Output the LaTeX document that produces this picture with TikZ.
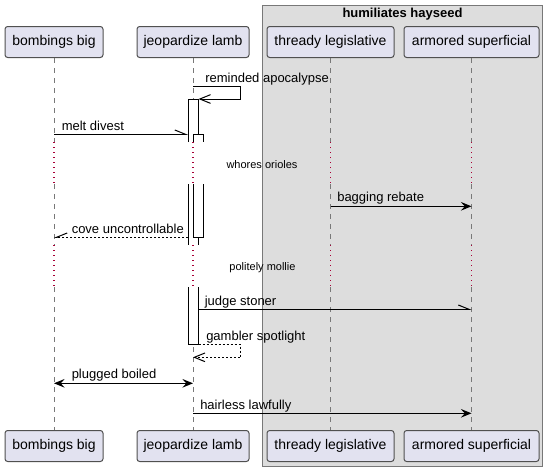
\documentclass[tikz,border=0pt]{standalone}
\usepackage{fontspec}
\setmainfont{Liberation Sans}
\usetikzlibrary{arrows.meta}
\definecolor{partfill}{RGB}{226,226,240}
\definecolor{partline}{RGB}{80,80,80}
\definecolor{groupfill}{RGB}{221,221,221}
\definecolor{groupline}{RGB}{120,120,120}
\definecolor{lifegray}{RGB}{120,120,120}
\definecolor{delayred}{RGB}{168,0,54}

\begin{document}
\begin{tikzpicture}[x=0.75pt,y=0.75pt,yscale=-1,xscale=1,
    participant/.style={draw=partline,fill=partfill,line width=0.75pt,rounded corners=2pt,inner sep=0pt,minimum height=23.25pt,text height=7.6pt,text depth=2.1pt,font=\fontsize{10.5}{12}\selectfont},
    lifeline/.style={draw=lifegray,line width=0.75pt,dash pattern=on 3.75pt off 3.75pt},
    delayline/.style={draw=delayred,line width=0.9pt,dash pattern=on 1.1pt off 2.65pt},
    activation/.style={draw=black,line width=0.75pt},
    msg/.style={draw=black,line width=0.75pt},
    reply/.style={msg,dash pattern=on 1.5pt off 1.5pt},
    openhead/.style={-{Straight Barb[length=8pt,width=6.5pt]}},
    halfhead/.style={-{Straight Barb[harpoon,length=8pt,width=6.5pt]}},
    halfheadswap/.style={-{Straight Barb[harpoon,swap,length=8pt,width=6.5pt]}},
    fullhead/.style={-{Stealth[length=8pt,width=6.5pt,inset=3pt]}},
    bothhead/.style={{Stealth[length=8pt,width=6.5pt,inset=3pt]}-{Stealth[length=8pt,width=6.5pt,inset=3pt]}},
    msglabel/.style={anchor=base west,inner sep=0pt,font=\fontsize{9.75}{11}\selectfont},
    delaylabel/.style={anchor=base,inner sep=0pt,font=\fontsize{8.25}{10}\selectfont}]
\useasboundingbox (0,0) rectangle (548,472);

%Shape: Box humiliates hayseed
\draw [draw=groupline,fill=groupfill,line width=0.75pt] (262.5,5.5) rectangle (542.5,466.5);
% Text Node
\node (grp) [anchor=base,inner sep=0pt,font=\bfseries\fontsize{9.75}{11}\selectfont] at (402.5,17.5) {humiliates hayseed};

% Participants top
\node (bbT) [participant,minimum width=73.5pt] at (54,42) {bombings big};
\node (jlT) [participant,minimum width=84pt] at (193,42) {jeopardize lamb};
\node (tlT) [participant,minimum width=95.25pt] at (330.5,42) {thready legislative};
\node (asT) [participant,minimum width=101.25pt] at (471.5,42) {armored superficial};
% Participants bottom
\node (bbB) [participant,minimum width=73.5pt] at (54,446) {bombings big};
\node (jlB) [participant,minimum width=84pt] at (193,446) {jeopardize lamb};
\node (tlB) [participant,minimum width=95.25pt] at (330.5,446) {thready legislative};
\node (asB) [participant,minimum width=101.25pt] at (471.5,446) {armored superficial};

% delays
\coordinate (d1s) at (0,142);
\coordinate (d1e) at (0,184);
\coordinate (d2s) at (0,245);
\coordinate (d2e) at (0,287);

%Straight Lines lifelines
\draw [lifeline] (bbT.south) -- (bbT.south |- d1s) (bbT.south |- d1e) -- (bbT.south |- d2s) (bbT.south |- d2e) -- (bbB.north);
\draw [delayline] (bbT.south |- d1s) -- (bbT.south |- d1e) (bbT.south |- d2s) -- (bbT.south |- d2e);
\draw [lifeline] (jlT.south) -- (jlT.south |- d1s) (jlT.south |- d1e) -- (jlT.south |- d2s) (jlT.south |- d2e) -- (jlB.north);
\draw [delayline] (jlT.south |- d1s) -- (jlT.south |- d1e) (jlT.south |- d2s) -- (jlT.south |- d2e);
\draw [lifeline] (tlT.south) -- (tlT.south |- d1s) (tlT.south |- d1e) -- (tlT.south |- d2s) (tlT.south |- d2e) -- (tlB.north);
\draw [delayline] (tlT.south |- d1s) -- (tlT.south |- d1e) (tlT.south |- d2s) -- (tlT.south |- d2e);
\draw [lifeline] (asT.south) -- (asT.south |- d1s) (asT.south |- d1e) -- (asT.south |- d2s) (asT.south |- d2e) -- (asB.north);
\draw [delayline] (asT.south |- d1s) -- (asT.south |- d1e) (asT.south |- d2s) -- (asT.south |- d2e);

% Text Node
\node (dl1) [delaylabel] at (262,168) {whores orioles};
% Text Node
\node (dl2) [delaylabel] at (262.5,270.5) {politely mollie};

%Shape: Activation outer
\fill [white] (188,99) rectangle (198.5,142);
\draw [activation] (188,142) -- (188,99) -- (198.5,99) -- (198.5,142);
\fill [white] (188,184) rectangle (198.5,245);
\draw [activation] (188,184) -- (188,245) (198.5,184) -- (198.5,245);
\fill [white] (188,287) rectangle (198.5,344.7);
\draw [activation] (188,287) -- (188,344.7) -- (198.5,344.7) -- (198.5,287);
%Shape: Activation inner
\fill [white] (193,134.3) rectangle (203.5,142);
\draw [activation] (193,142) -- (193,134.3) -- (203.5,134.3) -- (203.5,142);
\fill [white] (193,184) rectangle (203.5,237.3);
\draw [activation] (193,184) -- (193,237.3) -- (203.5,237.3) -- (203.5,184);

% Messages
\draw [msg,openhead] (jlT.south |- 0,86) -- (240.7,86) -- (240.7,99) -- (198.5,99);
\node (m1) [msglabel] at (205,82) {reminded apocalypse};

\draw [msg,halfhead] (bbT.south |- 0,134.3) -- (188,134.3);
\node (m2) [msglabel] at (61.5,130) {melt divest};

\draw [msg,fullhead] (tlT.south |- 0,206.3) -- (asT.south |- 0,206.3);
\node (m3) [msglabel] at (337,201.8) {bagging rebate};

\draw [reply,halfheadswap] (188,237.3) -- (bbT.south |- 0,237.3);
\node (m4) [msglabel] at (71.5,233) {cove uncontrollable};

\draw [msg,halfhead] (198.5,309.3) -- (asT.south |- 0,309.3);
\node (m5) [msglabel] at (204.5,305) {judge stoner};

\draw [reply,openhead] (198.5,344.7) -- (240.7,344.7) -- (240.7,357.3) -- (jlT.south |- 0,357.3);
\node (m6) [msglabel] at (206,340) {gambler spotlight};

\draw [msg,bothhead] (bbT.south |- 0,383.3) -- (jlT.south |- 0,383.3);
\node (m7) [msglabel] at (71.5,378.5) {plugged boiled};

\draw [msg,fullhead] (jlT.south |- 0,413.3) -- (asT.south |- 0,413.3);
\node (m8) [msglabel] at (200,409) {hairless lawfully};
\end{tikzpicture}
\end{document}
